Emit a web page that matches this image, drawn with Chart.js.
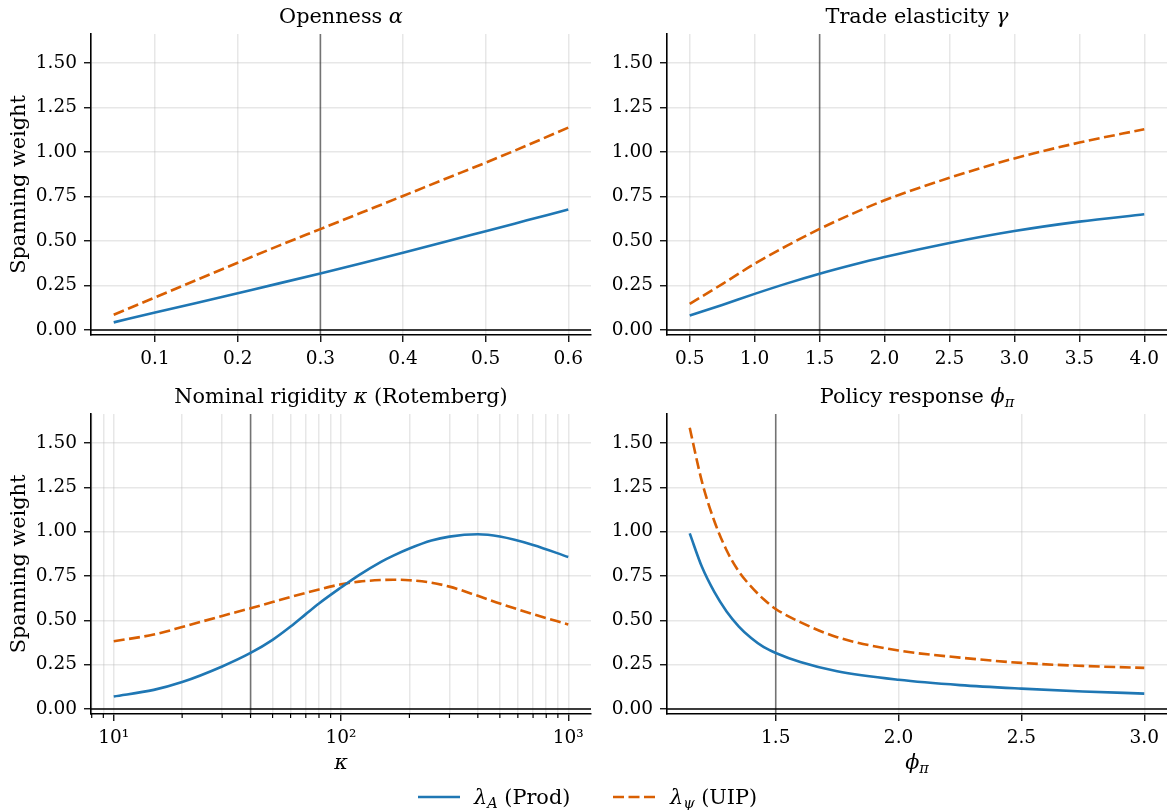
<!DOCTYPE html>
<html><head><meta charset="utf-8">
<script src="https://cdn.jsdelivr.net/npm/chart.js@4.4.1/dist/chart.umd.min.js"></script>
<style>
html,body{margin:0;padding:0;background:#fff;width:1167px;height:810px;overflow:hidden;font-family:"DejaVu Serif",serif;color:#000;}
canvas{position:absolute;}
.lg{position:absolute;font-size:20.8px;line-height:24px;white-space:nowrap;}
.lg i{font-style:italic;}
.lg sub{font-size:70%;vertical-align:-0.25em;line-height:0;}
</style></head><body>
<canvas id="c0" width="600" height="380" style="left:0;top:0"></canvas>
<canvas id="c1" width="587" height="380" style="left:580px;top:0"></canvas>
<canvas id="c2" width="600" height="430" style="left:0;top:380px"></canvas>
<canvas id="c3" width="587" height="430" style="left:580px;top:380px"></canvas>
<svg style="position:absolute;left:418px;top:787px" width="44" height="20"><line x1="0" y1="10" x2="42" y2="10" stroke="#1f77b4" stroke-width="2.6"/></svg>
<div class="lg" style="left:474px;top:785px"><i>λ</i><sub><i>A</i></sub> (Prod)</div>
<svg style="position:absolute;left:613px;top:787px" width="44" height="20"><line x1="0" y1="10" x2="42" y2="10" stroke="#d95f02" stroke-width="2.6" stroke-dasharray="11 4.5"/></svg>
<div class="lg" style="left:670px;top:785px"><i>λ</i><sub><i>ψ</i></sub> (UIP)</div>
<script>
// ---------------- data ----------------
const alphaGrid = [0.05,0.10,0.15,0.20,0.25,0.30,0.35,0.40,0.45,0.50,0.55,0.60];
const alphaProd = [0.043,0.098,0.152,0.207,0.262,0.318,0.375,0.434,0.494,0.555,0.616,0.677];
const alphaUIP  = [0.086,0.183,0.281,0.378,0.474,0.567,0.660,0.753,0.847,0.940,1.037,1.137];

const gammaGrid = [0.5,0.75,1.0,1.25,1.5,1.75,2.0,2.5,3.0,3.5,4.0];
const gammaProd = [0.081,0.141,0.203,0.262,0.316,0.365,0.410,0.489,0.556,0.609,0.650];
const gammaUIP  = [0.147,0.258,0.372,0.474,0.568,0.652,0.729,0.855,0.964,1.053,1.128];

const kappaGrid = [10,15,20,30,40,50,60,70,80,100,120,150,170,200,250,300,400,500,700,1000];
const kappaProd = [0.071,0.108,0.152,0.240,0.316,0.390,0.465,0.535,0.595,0.685,0.755,0.830,0.865,0.905,0.950,0.972,0.985,0.972,0.925,0.857];
const kappaUIP  = [0.382,0.420,0.462,0.525,0.568,0.603,0.632,0.655,0.674,0.703,0.718,0.727,0.729,0.726,0.712,0.690,0.638,0.595,0.535,0.477];

const phiGrid = [1.15,1.20,1.25,1.30,1.35,1.40,1.45,1.50,1.60,1.75,2.00,2.25,2.50,2.75,3.00];
const phiProd = [0.990,0.800,0.660,0.550,0.465,0.400,0.350,0.316,0.265,0.213,0.165,0.135,0.115,0.099,0.087];
const phiUIP  = [1.585,1.280,1.060,0.895,0.775,0.690,0.620,0.564,0.490,0.405,0.330,0.290,0.260,0.243,0.232];

const yTicks = [0,0.25,0.5,0.75,1.0,1.25,1.5];
const alphaTicks = [0.1,0.2,0.3,0.4,0.5,0.6];
const gammaTicks = [0.5,1.0,1.5,2.0,2.5,3.0,3.5,4.0];
const kappaMajor = [10,100,1000];
const kappaMinor = [8,9,20,30,40,50,60,70,80,90,200,300,400,500,600,700,800,900];
const kappaLabels = {10:'10¹',100:'10²',1000:'10³'};
const phiTicks = [1.5,2.0,2.5,3.0];

const alphaBase = 0.3, gammaBase = 1.5, kappaBase = 40, phiBase = 1.5;

const titles = [
  [{t:'Openness '},{t:'α',it:1}],
  [{t:'Trade elasticity '},{t:'γ',it:1}],
  [{t:'Nominal rigidity '},{t:'κ',it:1},{t:' (Rotemberg)'}],
  [{t:'Policy response '},{t:'ϕ',it:1},{t:'π',it:1,sub:1}]
];
const xLabels = [null,null,[{t:'κ',it:1}],[{t:'ϕ',it:1},{t:'π',it:1,sub:1}]];
const yLabel = 'Spanning weight';
const seriesNames = ['λA (Prod)','λψ (UIP)'];

// ---------------- style ----------------
const BLUE = '#1f77b4', ORANGE = '#d95f02';
const FONT = '"DejaVu Serif"';
const TICK_PX = 18.5, LABEL_PX = 20.8;
const GRID = 'rgba(176,176,176,0.3)';
const Y_MIN = -0.028, Y_MAX = 1.663;

Chart.defaults.font.family = FONT;
Chart.defaults.color = '#000';

function drawRich(ctx, segs, x, y, size, align){
  const f = s => `${s.it?'italic ':''}${s.sub?size*0.7:size}px ${FONT}`;
  let total = 0;
  segs.forEach(s=>{ctx.font=f(s); total += ctx.measureText(s.t).width;});
  let cx = align==='center' ? x-total/2 : x;
  ctx.textAlign='left'; ctx.textBaseline='alphabetic';
  segs.forEach(s=>{ctx.font=f(s); ctx.fillText(s.t, cx, y+(s.sub?size*0.2:0)); cx += ctx.measureText(s.t).width;});
}

const decor = {
  id:'decor',
  beforeDatasetsDraw(chart, args, o){
    const {ctx, chartArea:a} = chart; const x=chart.scales.x, y=chart.scales.y;
    ctx.save();
    const xv = x.getPixelForValue(o.vline);
    ctx.strokeStyle='rgba(0,0,0,0.5)'; ctx.lineWidth=1.6;
    ctx.beginPath(); ctx.moveTo(xv,a.top); ctx.lineTo(xv,a.bottom); ctx.stroke();
    const y0 = y.getPixelForValue(0);
    ctx.strokeStyle='#000'; ctx.lineWidth=1.5;
    ctx.beginPath(); ctx.moveTo(a.left,y0); ctx.lineTo(a.right,y0); ctx.stroke();
    ctx.restore();
  },
  afterDraw(chart, args, o){
    const {ctx, chartArea:a} = chart; const x=chart.scales.x;
    ctx.save(); ctx.fillStyle='#000';
    if (o.minor){
      ctx.strokeStyle='#000'; ctx.lineWidth=1.2;
      o.minor.forEach(v=>{const px=x.getPixelForValue(v); if(px<a.left-0.5||px>a.right+0.5) return;
        ctx.beginPath(); ctx.moveTo(px,a.bottom); ctx.lineTo(px,a.bottom+4); ctx.stroke();});
    }
    drawRich(ctx, o.title, (a.left+a.right)/2, a.top-11, LABEL_PX, 'center');
    if (o.xlabel) drawRich(ctx, o.xlabel, (a.left+a.right)/2, a.bottom+55, LABEL_PX, 'center');
    if (o.ylabel){
      ctx.translate(25,(a.top+a.bottom)/2); ctx.rotate(-Math.PI/2);
      ctx.font = `${LABEL_PX}px ${FONT}`; ctx.textAlign='center'; ctx.textBaseline='alphabetic';
      ctx.fillText(o.ylabel,0,0);
    }
    ctx.restore();
  }
};

function pts(xs, ys){ return xs.map((v,i)=>({x:v,y:ys[i]})); }
function pad5(arr){ const lo=Math.min(...arr), hi=Math.max(...arr); return [lo-0.05*(hi-lo), hi+0.05*(hi-lo)]; }

function make(id, o){
  let xr;
  if (o.log){ const l0=Math.log10(o.grid[0]), l1=Math.log10(o.grid[o.grid.length-1]), m=0.05*(l1-l0);
    xr=[Math.pow(10,l0-m), Math.pow(10,l1+m)]; } else xr = pad5(o.grid);
  const allX = o.log ? kappaMajor.concat(kappaMinor).sort((a,b)=>a-b) : o.ticks;
  new Chart(document.getElementById(id), {
    type:'line',
    data:{datasets:[
      {label:seriesNames[0], data:pts(o.grid,o.prod), borderColor:BLUE, borderWidth:2.6, pointRadius:0, cubicInterpolationMode:'monotone', fill:false},
      {label:seriesNames[1], data:pts(o.grid,o.uip), borderColor:ORANGE, borderWidth:2.6, borderDash:[11,4.5], pointRadius:0, cubicInterpolationMode:'monotone', fill:false}
    ]},
    options:{
      responsive:false, animation:false, devicePixelRatio:1,
      layout:{padding:{top:34,left:0,right:o.padRight,bottom:o.padBottom||0}},
      plugins:{legend:{display:false}, tooltip:{enabled:false},
        decor:{vline:o.base, title:o.title, xlabel:o.xlabel, ylabel:o.ylabel, minor:o.log?kappaMinor:null}},
      scales:{
        x:{type:o.log?'logarithmic':'linear', min:xr[0], max:xr[1],
          afterBuildTicks:s=>{s.ticks = allX.map(v=>({value:v}));},
          afterFit:s=>{s.height=o.xh;},
          ticks:{autoSkip:false, maxRotation:0, padding:6, font:{size:TICK_PX}, color:'#000',
            callback:(v)=> o.log ? (kappaLabels[v]||'') : Number(v).toFixed(1)},
          grid:{color:GRID, lineWidth:1.5, tickLength:7, tickWidth:1.3,
            tickColor:c=> (o.log && !kappaLabels[c.tick&&c.tick.value]) ? 'rgba(0,0,0,0)' : '#000'},
          border:{display:true, color:'#000', width:1.6}},
        y:{type:'linear', min:Y_MIN, max:Y_MAX,
          afterBuildTicks:s=>{s.ticks = yTicks.map(v=>({value:v}));},
          afterFit:s=>{s.width=o.yw;},
          ticks:{autoSkip:false, padding:7, font:{size:TICK_PX}, color:'#000', callback:v=>Number(v).toFixed(2)},
          grid:{color:GRID, lineWidth:1.5, tickLength:7, tickWidth:1.3, tickColor:'#000'},
          border:{display:true, color:'#000', width:1.6}}
      }
    },
    plugins:[decor]
  });
}

make('c0',{grid:alphaGrid, prod:alphaProd, uip:alphaUIP, ticks:alphaTicks, base:alphaBase, title:titles[0], ylabel:yLabel, yw:91, xh:45, padRight:9});
make('c1',{grid:gammaGrid, prod:gammaProd, uip:gammaUIP, ticks:gammaTicks, base:gammaBase, title:titles[1], yw:87, xh:45, padRight:0});
make('c2',{grid:kappaGrid, prod:kappaProd, uip:kappaUIP, log:true, base:kappaBase, title:titles[2], xlabel:xLabels[2], ylabel:yLabel, yw:91, xh:46, padRight:9, padBottom:50});
make('c3',{grid:phiGrid, prod:phiProd, uip:phiUIP, ticks:phiTicks, base:phiBase, title:titles[3], xlabel:xLabels[3], yw:87, xh:46, padRight:0, padBottom:50});
</script>
</body></html>
